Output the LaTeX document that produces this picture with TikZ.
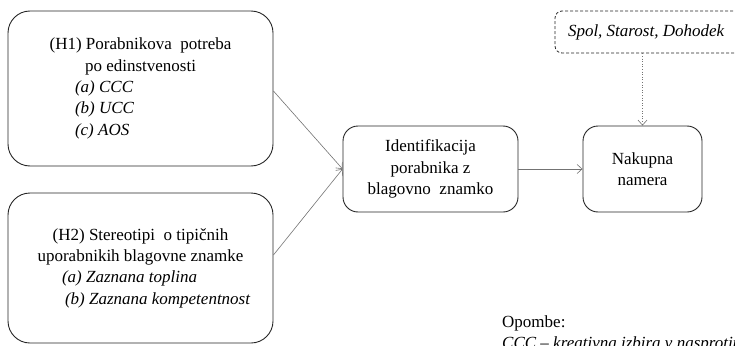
\documentclass[tikz,border=0pt]{standalone}
\usepackage{fontspec}
\setmainfont{Liberation Serif}
\usepackage{tikz}
\usetikzlibrary{arrows.meta}
\usetikzlibrary{positioning}
\tikzset{hbox/.style = {draw=black!85, line width=0.9pt, rounded corners=22pt, align=center, inner sep=0},
         mbox/.style = {draw=black!85, line width=0.9pt, rounded corners=15pt, align=center, inner sep=0},
         cbox/.style = {draw=black!85, line width=0.8pt, rounded corners=7pt, dash pattern=on 3pt off 2pt, inner sep=0},
         conn/.style = {draw=black!55, line width=0.6pt, -{Straight Barb[length=5pt,width=9pt]}}}

\begin{document}
\begin{tikzpicture}[x=1pt, y=-1pt, font=\fontsize{17}{21.3}\selectfont]
            \useasboundingbox (0,0) rectangle (735,345);
            \clip (0,0) rectangle (735,345);
            \node [hbox, minimum width=265pt, minimum height=155pt] (H1) at (140.5,88.5) {(H1) Porabnikova\ \ potreba\\po edinstvenosti\\\makebox[131pt][l]{\itshape (a) CCC}\\\makebox[131pt][l]{\itshape (b) UCC}\\\makebox[131pt][l]{\itshape (c) AOS}};
            \node [hbox, minimum width=265pt, minimum height=150pt] (H2) at (140.5,268) {(H2) Stereotipi\ \ o tipičnih\\uporabnikih\ blagovne\ znamke\\\makebox[157pt][l]{\itshape (a) Zaznana toplina}\\\makebox[151pt][l]{\itshape (b) Zaznana kompetentnost}};
            \node [mbox, minimum width=175pt, minimum height=86pt] (ident) at (430.5,169) {Identifikacija\\porabnika z\\blagovno\ \ znamko};
            \node [mbox, minimum width=119pt, minimum height=86pt] (nakup) at (642.5,169) {Nakupna\\namera};
            \node [cbox, minimum width=200pt, minimum height=42pt] (demo) at (655,32) {\makebox[174pt][l]{\itshape Spol, Starost, Dohodek}};
            \node [anchor=north west, inner sep=0, align=left] (opombe) at (502,315.5) {Opombe:\\\itshape CCC -- kreativna izbira v nasprotju};
            \draw [conn] ([yshift=-2.5pt]H1.east) -- (ident.west);
            \draw [conn] ([yshift=13pt]H2.east) -- (ident.west);
            \draw [conn] (ident) -- (nakup);
            \draw [conn, dotted] (demo.south -| nakup.north) -- (nakup.north);
        \end{tikzpicture}
\end{document}
